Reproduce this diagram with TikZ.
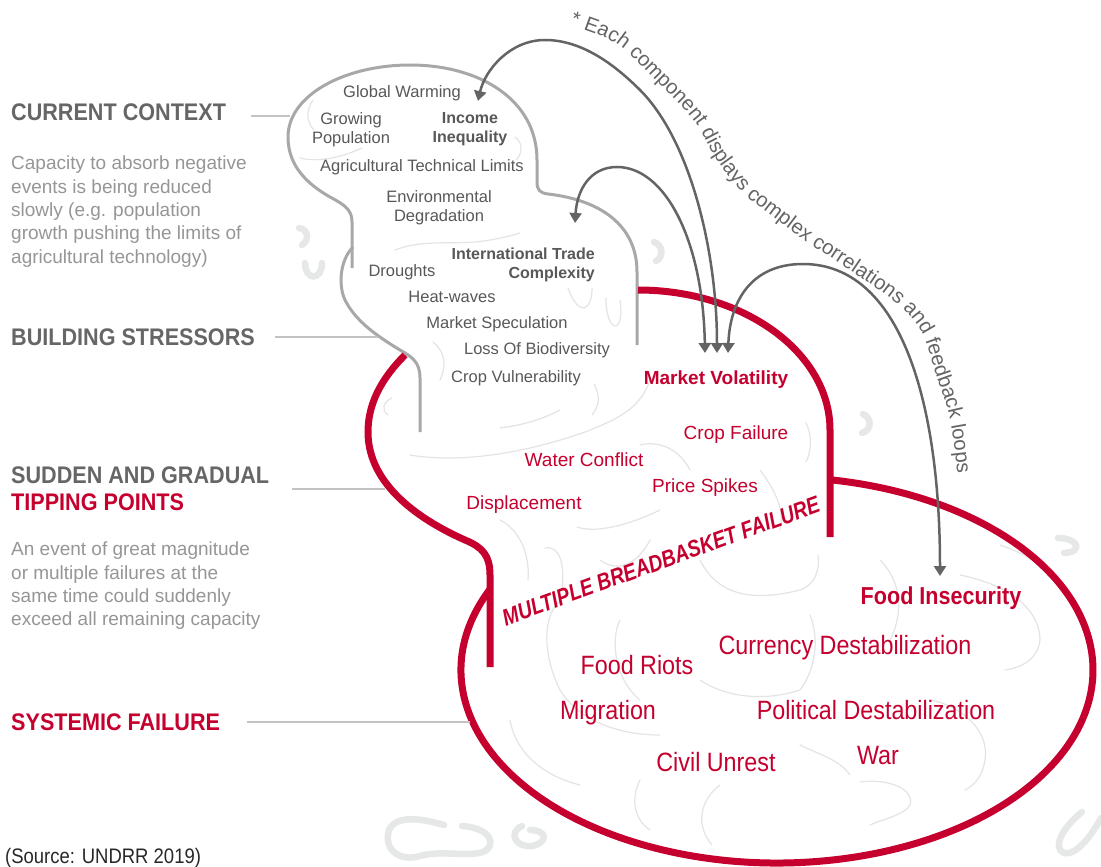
\documentclass[tikz,border=0pt]{standalone}
\usepackage{fontspec}
\setmainfont{Liberation Sans}
\newfontfamily\condfont[FakeStretch=0.88]{Liberation Sans}
\newfontfamily\headfont[FakeStretch=0.9]{Liberation Sans}
\newfontfamily\slantfont[FakeStretch=0.82]{Liberation Sans}
\usetikzlibrary{arrows.meta,decorations.text,calc}
\definecolor{redc}{RGB}{197,0,47}
\definecolor{headgray}{RGB}{102,102,102}
\definecolor{descgray}{RGB}{150,150,150}
\definecolor{txtgray}{RGB}{88,88,88}
\definecolor{outgray}{RGB}{168,168,168}
\definecolor{leadgray}{RGB}{195,195,195}
\definecolor{arrgray}{RGB}{100,100,100}
\definecolor{sqgray}{RGB}{228,228,228}
\definecolor{blobgray}{RGB}{230,232,232}
\definecolor{srcgray}{RGB}{40,40,40}
\begin{document}
\begin{tikzpicture}[x=1pt,y=-1pt,
  gt/.style={text=txtgray,font=\fontsize{16.5}{19}\selectfont,inner sep=0pt,align=center},
  gb/.style={text=txtgray,font=\fontsize{16}{19}\selectfont\bfseries,inner sep=0pt,align=center},
  rt/.style={text=redc,font=\fontsize{19}{22}\selectfont,inner sep=0pt},
  rb/.style={text=redc,font=\fontsize{19}{22}\selectfont\bfseries,inner sep=0pt},
  rc/.style={text=redc,font=\condfont\fontsize{26.5}{30}\selectfont,inner sep=0pt},
  rcb/.style={text=redc,font=\condfont\bfseries\fontsize{24.5}{28}\selectfont,inner sep=0pt},
  head/.style={font=\headfont\bfseries\fontsize{24}{27}\selectfont,inner sep=0pt,anchor=west},
  desc/.style={text=descgray,font=\fontsize{19}{23.3}\selectfont,inner sep=0pt,anchor=west,align=left},
  lead/.style={draw=leadgray,line width=2pt},
  outline/.style={draw=outgray,line width=3pt},
  redline/.style={draw=redc,line width=7pt},
  fb/.style={draw=arrgray,line width=2.5pt,{Triangle[width=12pt,length=10pt]}-{Triangle[width=12pt,length=10pt]}},
  sq/.style={draw=sqgray,line width=1.2pt,line cap=round},
  blob/.style={draw=blobgray,line width=6.5pt,line cap=round}
]
\useasboundingbox (0,0) rectangle (1101,867);
\fill[white] (0,0) rectangle (1101,867);

% faint background squiggles
\begin{scope}
\draw[sq] (313,100) .. controls (306,110) and (306,122) .. (314,130);
\draw[sq] (300,158) .. controls (320,163) and (345,156) .. (362,148);
\draw[sq] (515,137) .. controls (523,143) and (523,153) .. (516,160);
\draw[sq] (395,250) .. controls (420,240) and (450,244) .. (475,242) .. controls (495,240) and (510,236) .. (520,233);
\draw[sq] (568,288) .. controls (572,300) and (578,308) .. (584,308) .. controls (590,306) and (592,298) .. (592,288);
\draw[sq] (606,298) .. controls (606,315) and (610,326) .. (616,326) .. controls (621,324) and (622,312) .. (620,300);
\draw[sq] (433,342) .. controls (445,352) and (447,365) .. (440,380);
\draw[sq] (392,398) .. controls (383,402) and (381,410) .. (388,415);
\draw[sq] (500,428) .. controls (525,425) and (545,418) .. (560,410);
\draw[sq] (410,455) .. controls (470,465) and (540,448) .. (585,432) .. controls (615,420) and (640,410) .. (650,380);
\draw[sq] (594,384) .. controls (600,395) and (600,405) .. (592,415);
\draw[sq] (806,423) .. controls (812,435) and (812,450) .. (806,462);
\draw[sq] (640,445) .. controls (660,440) and (680,450) .. (690,470);
\draw[sq] (577,527) .. controls (600,535) and (640,520) .. (660,510);
\draw[sq] (500,520) .. controls (520,530) and (530,555) .. (528,580);
\draw[sq] (545,548) .. controls (560,545) and (565,565) .. (562,590);
\draw[sq] (600,560) .. controls (620,575) and (640,560) .. (650,540);
\draw[sq] (760,470) .. controls (775,490) and (785,510) .. (780,530);
\draw[sq] (700,560) .. controls (720,600) and (760,600) .. (800,590) .. controls (815,585) and (820,570) .. (818,555);
\draw[sq] (560,600) .. controls (540,620) and (545,660) .. (560,690) .. controls (575,715) and (610,735) .. (660,735);
\draw[sq] (620,620) .. controls (610,640) and (615,680) .. (640,700);
\draw[sq] (700,680) .. controls (730,700) and (770,700) .. (800,690);
\draw[sq] (880,560) .. controls (900,580) and (905,610) .. (890,640);
\draw[sq] (960,575) .. controls (1010,585) and (1040,610) .. (1040,640) .. controls (1038,660) and (1020,668) .. (1005,670);
\draw[sq] (1000,545) .. controls (1030,555) and (1050,570) .. (1060,585);
\draw[sq] (810,615) .. controls (820,640) and (815,670) .. (800,690);
\draw[sq] (930,700) .. controls (960,705) and (990,730) .. (985,760) .. controls (983,775) and (975,785) .. (965,790);
\draw[sq] (720,785) .. controls (700,800) and (695,825) .. (712,845);
\draw[sq] (860,782) .. controls (890,778) and (915,790) .. (910,805) .. controls (905,815) and (880,820) .. (870,825);
\draw[sq] (510,720) .. controls (515,750) and (540,775) .. (580,785);
\draw[sq] (640,780) .. controls (630,800) and (635,820) .. (650,830);
\draw[sq] (800,745) .. controls (820,755) and (840,760) .. (850,775);
\end{scope}

% thick light blobs
\draw[blob] (299,228) .. controls (308,229) and (310,240) .. (302,245);
\draw[blob] (305,263) .. controls (305,281) and (322,281) .. (322,263);
\draw[blob] (654,242) .. controls (663,245) and (664,257) .. (656,261);
\draw[blob] (863,414) .. controls (872,418) and (872,430) .. (862,433);
\draw[blob] (1058,538) .. controls (1078,538) and (1084,552) .. (1064,553);
\draw[blob] (1082,812) .. controls (1062,828) and (1052,848) .. (1064,853) .. controls (1076,856) and (1092,835) .. (1101,818);
\draw[blob] (444,825) .. controls (420,818) and (396,815) .. (389,830) .. controls (383,850) and (400,862) .. (420,856) .. controls (440,850) and (468,857) .. (483,852) .. controls (497,846) and (492,828) .. (462,826);
\draw[blob] (522,826) .. controls (508,832) and (515,848) .. (532,846) .. controls (548,843) and (548,830) .. (530,830);

% gray head outline
\draw[outline] (352,268) -- (352,222) .. controls (352,210) and (345,205) .. (330,197)
  .. controls (300,180) and (288,160) .. (288,137)
  .. controls (288,95) and (345,65) .. (410,65)
  .. controls (480,65) and (537,100) .. (537,160) -- (537,182)
  .. controls (537,190) and (540,193) .. (548,194)
  .. controls (600,200) and (637,225) .. (637,272) -- (637,345);
\draw[outline] (353,247) .. controls (340,260) and (338,285) .. (345,300)
  .. controls (355,320) and (375,335) .. (400,350)
  .. controls (412,357) and (420,362) .. (420,378) -- (420,432);

% red outlines
\draw[redline] (405,355) .. controls (380,380) and (368,405) .. (368,432)
  .. controls (368,485) and (420,520) .. (465,540)
  .. controls (482,547) and (490,555) .. (490,575) -- (490,667);
\draw[redline] (638,290) arc[start angle=-90,end angle=0,x radius=192,y radius=140] -- (830,537);
\draw[redline] (777,670) ++(204.8:316 and 193) arc[start angle=204.8,end angle=-80.3,x radius=316,y radius=193];

% left headings
\node[head,text=headgray] (cc) at (11,112) {CURRENT CONTEXT};
\node[desc] (d1) at (11,211.5) {Capacity to absorb negative\\events is being reduced\\slowly (e.g. population\\growth pushing the limits of\\agricultural technology)};
\node[head,text=headgray] (bs) at (11,337) {BUILDING STRESSORS};
\node[head,text=headgray] (sg) at (11,475) {SUDDEN AND GRADUAL};
\node[head,text=redc] (tp) at (11,502) {TIPPING POINTS};
\node[desc] (d2) at (11,586) {An event of great magnitude\\or multiple failures at the\\same time could suddenly\\exceed all remaining capacity};
\node[head,text=redc] (sf) at (11,722) {SYSTEMIC FAILURE};
\node[anchor=west,inner sep=0pt,text=srcgray,font=\condfont\fontsize{21}{24}\selectfont] (src) at (5,858) {(Source: UNDRR 2019)};

% leader lines
\coordinate (l1a) at (251,116); \coordinate (l1b) at (290,116);
\coordinate (l2a) at (275,337); \coordinate (l2b) at (378,337);
\coordinate (l3a) at (292,489); \coordinate (l3b) at (385,489);
\coordinate (l4a) at (247,722); \coordinate (l4b) at (470,722);
\draw[lead] (l1a) -- (l1b);
\draw[lead] (l2a) -- (l2b);
\draw[lead] (l3a) -- (l3b);
\draw[lead] (l4a) -- (l4b);

% stressor texts
\node[gt] (gw) at (402,93) {Global Warming};
\node[gt] (gp) at (351,129.5) {Growing\\Population};
\node[gb] (ii) at (470,129.5) {Income\\Inequality};
\node[gt] (atl) at (422,167) {Agricultural Technical Limits};
\node[gt] (ed) at (439,207.5) {Environmental\\Degradation};
\node[gb,align=right,anchor=east] (itc) at (595,264.5) {International Trade\\Complexity};
\node[gt] (dr) at (402,272) {Droughts};
\node[gt] (hw) at (452,297) {Heat-waves};
\node[gt] (ms) at (497,324) {Market Speculation};
\node[gt] (lb) at (537,350) {Loss Of Biodiversity};
\node[gt] (cv) at (516,378) {Crop Vulnerability};

% tipping texts
\node[rb] (mv) at (716,380) {Market Volatility};
\node[rt] (cf) at (736,435) {Crop Failure};
\node[rt] (wc) at (584,460) {Water Conflict};
\node[rt] (ps) at (705,488) {Price Spikes};
\node[rt] (dp) at (524,505) {Displacement};
\node[text=redc,font=\slantfont\bfseries\itshape\fontsize{23.5}{26}\selectfont,inner sep=0pt,rotate=20] (mbf) at (661,561) {MULTIPLE BREADBASKET FAILURE};

% systemic texts
\node[rcb] (fi) at (941,598) {Food Insecurity};
\node[rc] (cd) at (845,648) {Currency Destabilization};
\node[rc] (fr) at (637,665) {Food Riots};
\node[rc] (mg) at (608,713) {Migration};
\node[rc] (pd) at (876,710) {Political Destabilization};
\node[rc] (cu) at (716,762) {Civil Unrest};
\node[rc] (war) at (878,756) {War};

% feedback arrows
\coordinate (a1s) at (717,353); \coordinate (a1e) at (478,101);
\coordinate (a2s) at (705,353); \coordinate (a2e) at (575,223);
\coordinate (a3s) at (728,353); \coordinate (a3e) at (940,576);
\draw[fb] (a1s) .. controls (717,250) and (690,140) .. (640,90) .. controls (612,62) and (580,40) .. (545,40) .. controls (510,40) and (485,70) .. (a1e);
\draw[fb] (a2s) .. controls (703,240) and (665,167) .. (617,167) .. controls (590,167) and (577,190) .. (a2e);
\draw[fb] (a3s) .. controls (730,300) and (752,264) .. (803,264) .. controls (900,264) and (940,400) .. (a3e);

% curved note
\path[decorate,decoration={text along path,text align={left},
  text={|\color{arrgray}\fontsize{20.4}{21}\selectfont|* Each component displays complex correlations and feedback loops}}]
  plot[smooth,tension=0.6] coordinates {(570,25) (615,43) (655,80) (694,121) (716,159) (742,192) (772,216) (804,240) (851,271) (895,302) (921,331) (935,372) (949,415) (957,470) (960,530)};
\end{tikzpicture}
\end{document}
